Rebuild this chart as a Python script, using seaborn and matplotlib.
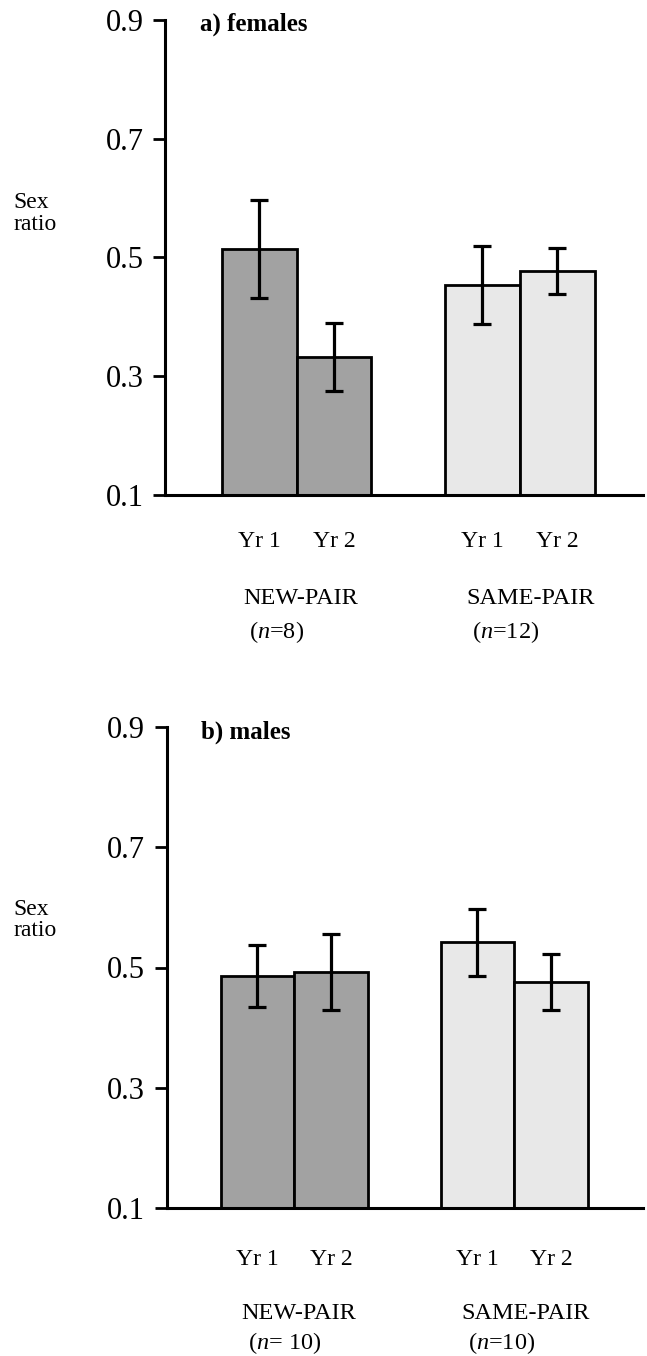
import matplotlib
matplotlib.use("Agg")
import matplotlib.pyplot as plt
import numpy as np
import pandas as pd
import seaborn as sns

# ---- data ----
groups = ["NEW-PAIR", "SAME-PAIR"]
years = ["Yr 1", "Yr 2"]
yticks = [0.1, 0.3, 0.5, 0.7, 0.9]
ytick_labels = ["0.1", "0.3", "0.5", "0.7", "0.9"]

# order: NEW Yr1, NEW Yr2, SAME Yr1, SAME Yr2
fem_mean = [0.514, 0.332, 0.454, 0.477]
fem_se = [0.082, 0.057, 0.066, 0.039]
fem_n = [r" ($\it{n}$=8)", r" ($\it{n}$=12)"]

male_mean = [0.486, 0.492, 0.542, 0.476]
male_se = [0.052, 0.063, 0.056, 0.047]
male_n = [r" ($\it{n}$= 10)", r" ($\it{n}$=10)"]

group_colors = {"NEW-PAIR": "#a2a2a2", "SAME-PAIR": "#e8e8e8"}

sns.set_style("ticks", {"axes.edgecolor": "black", "text.color": "black",
                        "xtick.color": "black", "ytick.color": "black",
                        "axes.labelcolor": "black"})
plt.rcParams["font.family"] = ["Liberation Serif", "DejaVu Serif"]
plt.rcParams["mathtext.fontset"] = "custom"
plt.rcParams["mathtext.rm"] = "Liberation Serif"
plt.rcParams["mathtext.it"] = "Liberation Serif:italic"

W, H = 647, 1356
fig = plt.figure(figsize=(W / 100, H / 100), dpi=100)


def panel(rect, means, ses, ns, title, xlim, yr_y, grp_y, n_y, sex_y):
    ax = fig.add_axes(rect)
    df = pd.DataFrame({
        "group": [g for g in groups for _ in years],
        "year": [y for _ in groups for y in years],
        "value": means,
        "se": ses,
    })
    sns.barplot(data=df, x="group", y="value", hue="year", order=groups,
                hue_order=years, dodge=True, width=0.67, errorbar=None,
                edgecolor="black", linewidth=2.0, legend=False, ax=ax,
                palette=["#999999", "#999999"])
    ax.set_xlim(*xlim)
    ax.set_ylim(0.1, 0.9)
    bars = sorted(ax.patches, key=lambda p: p.get_x())
    for p, (_, row) in zip(bars, df.iterrows()):
        xc = p.get_x() + p.get_width() / 2
        p.set_facecolor(group_colors[row["group"]])
        ax.errorbar(xc, row["value"], yerr=row["se"], fmt="none",
                    ecolor="black", elinewidth=2.3, capsize=6.2,
                    capthick=2.3, zorder=5)
        ax.text(xc, yr_y, row["year"], transform=ax.get_xaxis_transform(),
                ha="center", va="center", fontsize=17, color="black")
    for gi, g in enumerate(groups):
        ax.text(gi - 0.24, grp_y, g, transform=ax.get_xaxis_transform(),
                ha="left", va="center", fontsize=17.5, color="black")
        ax.text(gi - 0.24, n_y, ns[gi], transform=ax.get_xaxis_transform(),
                ha="left", va="center", fontsize=17.5, color="black")
    ax.set_yticks(yticks)
    ax.set_yticklabels(ytick_labels, fontsize=22, color="black")
    ax.set_xticks([])
    ax.set_xlabel("")
    ax.set_ylabel("")
    ax.tick_params(axis="y", direction="out", length=8.5, width=2.0, pad=7,
                   color="black")
    for s in ["top", "right"]:
        ax.spines[s].set_visible(False)
    for s in ["left", "bottom"]:
        ax.spines[s].set_linewidth(2.2)
        ax.spines[s].set_color("black")
    ax.text(0.073, 0.99, title, transform=ax.transAxes, ha="left",
            va="center", fontsize=18, fontweight="bold", color="black")
    fig.text(13 / W, sex_y, "Sex\nratio", ha="left", va="center",
             fontsize=17, linespacing=1.05, color="black")
    return ax


panel([165 / W, 1 - 495 / H, (643 - 165) / W, 475 / H],
      fem_mean, fem_se, fem_n, "a) females", (-0.589, 1.552),
      -0.098, -0.217, -0.289, 1 - 213.5 / H)
panel([166.7 / W, 1 - 1208 / H, (643 - 166.7) / W, 481 / H],
      male_mean, male_se, male_n, "b) males", (-0.58, 1.585),
      -0.108, -0.22, -0.28, 1 - 920 / H)

fig.savefig("out.png", dpi=100)
